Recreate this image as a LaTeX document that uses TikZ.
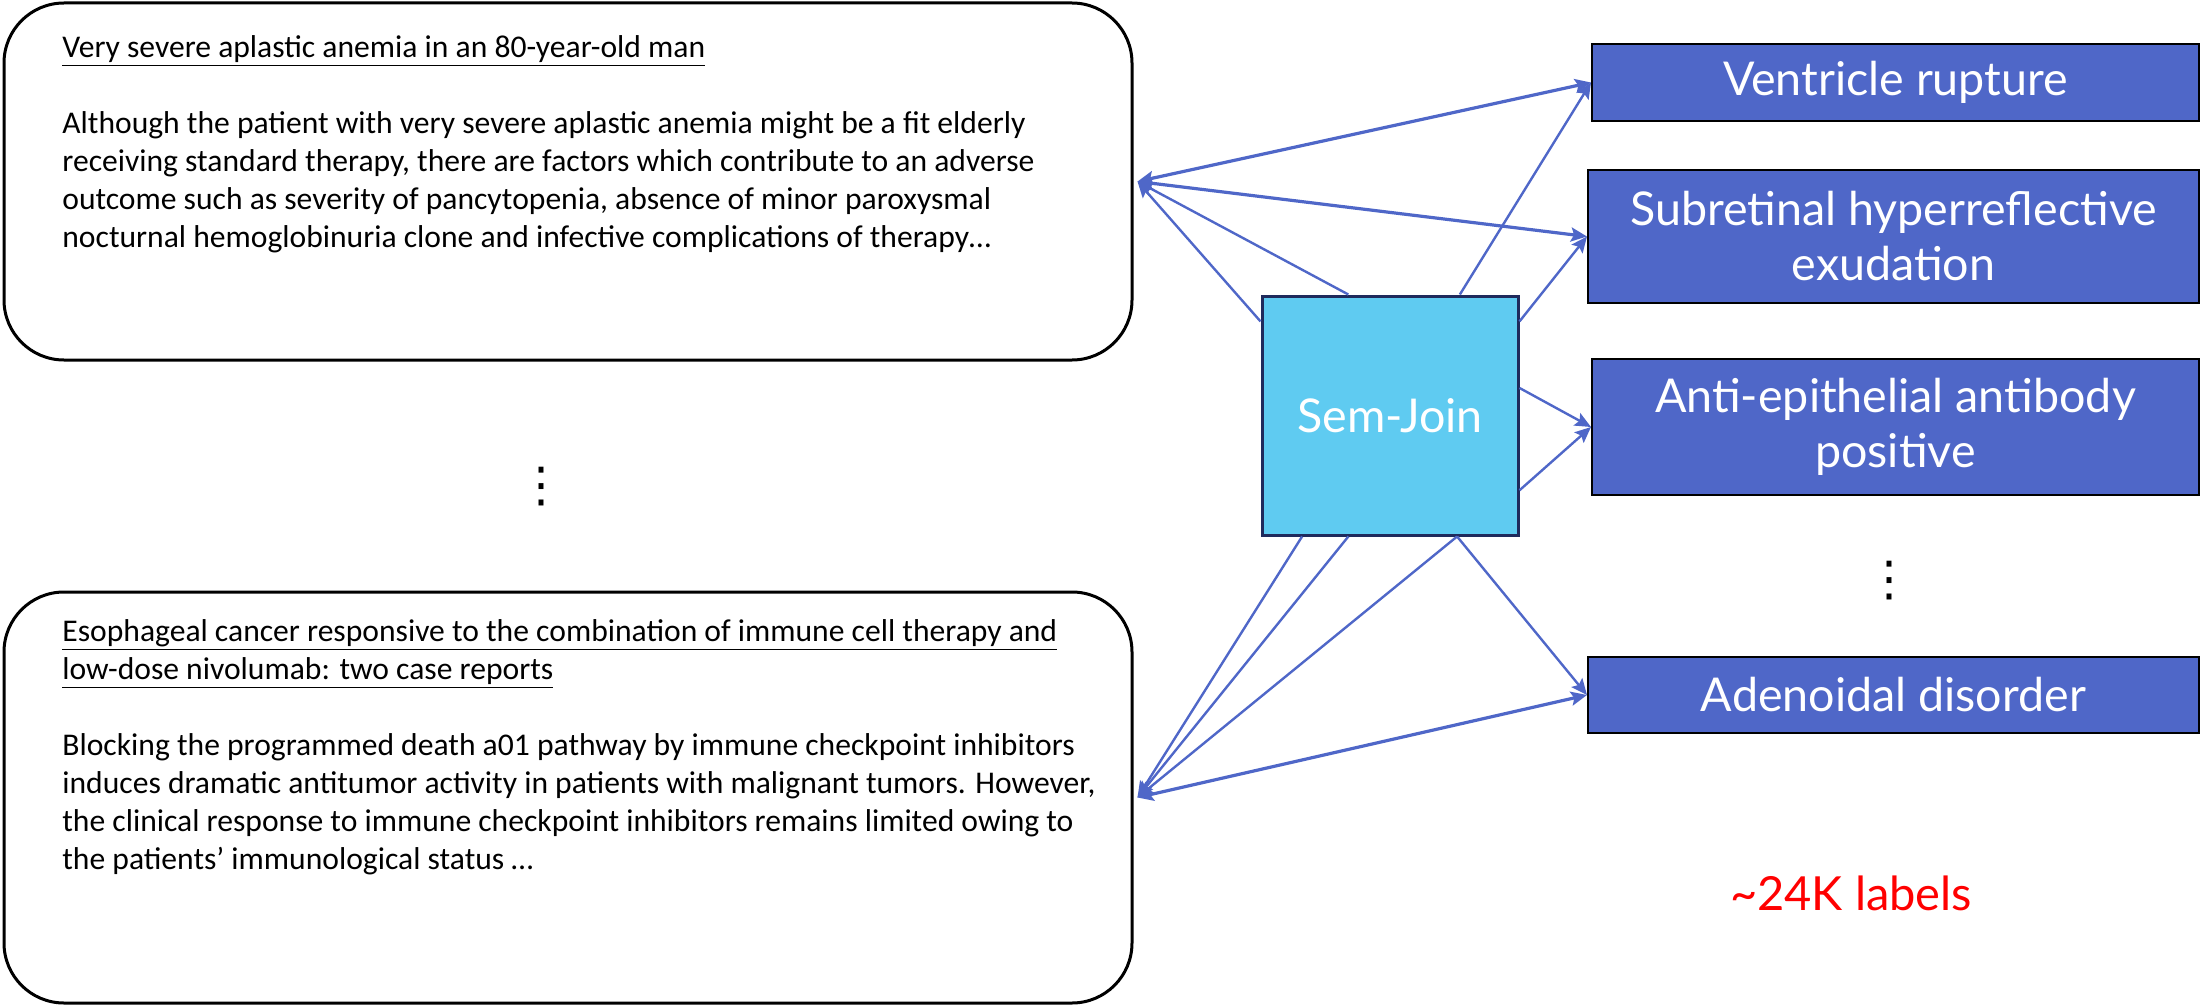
\documentclass[tikz,border=0pt]{standalone}
\usepackage{fontspec}
\setmainfont{Carlito}
\newfontfamily\labelfont{Lato}
\newfontfamily\symfont{DejaVu Sans}
\usetikzlibrary{arrows.meta,positioning,calc}

\definecolor{labelblue}{HTML}{4F67C8}
\definecolor{joinblue}{HTML}{5FCBF1}
\definecolor{joinedge}{HTML}{1F2A5C}
\definecolor{linkblue}{HTML}{4F67C8}

\tikzset{
  docbox/.style={draw=black, line width=1.5pt, rounded corners=30pt, minimum width=564pt},
  doctext/.style={anchor=north west, align=left, inner sep=0pt, font=\fontsize{15.8}{19}\selectfont},
  labelbox/.style={draw=black, line width=1pt, fill=labelblue, text=white, align=center,
    font=\labelfont\fontsize{23.3}{27.5}\selectfont},
  moredots/.style={font=\symfont\fontsize{24}{24}\selectfont},
  link/.style={draw=linkblue, line width=1.2pt, -{Stealth[length=8pt,width=7pt,inset=1.5pt]}},
  biglink/.style={draw=linkblue, line width=1.6pt,
    {Stealth[length=8pt,width=7pt,inset=1.5pt]}-{Stealth[length=8pt,width=7pt,inset=1.5pt]}},
}

\begin{document}
\begin{tikzpicture}[x=0.5pt, y=-0.5pt]
    \useasboundingbox (0,0) rectangle (2202,1006);

    % documents
    \node[docbox, minimum height=178.5pt] (docA) at (568,181.5) {};
    \node[doctext] (docAtext) at (62,35)
    {\underline{Very severe aplastic anemia in an 80-year-old man}\\[19pt]
     Although the patient with very severe aplastic anemia might be a fit elderly\\
     receiving standard therapy, there are factors which contribute to an adverse\\
     outcome such as severity of pancytopenia, absence of minor paroxysmal\\
     nocturnal hemoglobinuria clone and infective complications of therapy\dots};

    \node[docbox, minimum height=205.5pt] (docB) at (568,797.5) {};
    \node[doctext] (docBtext) at (62,619)
    {\underline{Esophageal cancer responsive to the combination of immune cell therapy and}\\
     \underline{low-dose nivolumab: two case reports}\\[19pt]
     Blocking the programmed death a01 pathway by immune checkpoint inhibitors\\
     induces dramatic antitumor activity in patients with malignant tumors. However,\\
     the clinical response to immune checkpoint inhibitors remains limited owing to\\
     the patients' immunological status \dots};

    \node[moredots] (docdots) at (541,487) {⋮};

    % join
    \node[draw=joinedge, line width=1.5pt, fill=joinblue, text=white,
          minimum width=128pt, minimum height=119.5pt,
          font=\labelfont\fontsize{23.3}{27}\selectfont] (sj) at (1390,415.5) {Sem-Join};

    % labels
    \node[labelbox, minimum width=303.5pt, minimum height=38.5pt] (vent) at (1895.5,82.5) {Ventricle rupture};
    \node[labelbox, minimum width=305.5pt, minimum height=66.5pt] (subr) at (1893.5,236.5) {Subretinal hyperreflective\\exudation};
    \node[labelbox, minimum width=303.5pt, minimum height=68pt] (anti) at (1895.5,427) {Anti-epithelial antibody\\positive};
    \node[labelbox, minimum width=305.5pt, minimum height=38pt] (aden) at (1893.5,695) {Adenoidal disorder};

    \node[moredots] (labeldots) at (1889,581) {⋮};
    \node[text=red, font=\labelfont\fontsize{23.5}{27}\selectfont] (count) at (1851,893) {\textasciitilde24K labels};

    % links
    \draw[biglink] ([xshift=2pt]docA.east) -- (vent.west);
    \draw[biglink] ([xshift=2pt]docA.east) -- (subr.west);
    \draw[link] (sj.109) -- ([xshift=2pt]docA.east);
    \draw[link] (sj.144) -- ([xshift=2pt]docA.east);
    \draw[link] (sj.60) -- (vent.west);
    \draw[link] (sj.36) -- (subr.west);
    \draw[link] (sj.12) -- (anti.west);
    \draw[link] (sj.330) -- (anti.west);
    \draw[link] (sj.234) -- ([xshift=2pt]docB.east);
    \draw[link] (sj.251) -- ([xshift=2pt]docB.east);
    \draw[link] (sj.299) -- ([xshift=2pt]docB.east);
    \draw[link] (sj.299) -- (aden.west);
    \draw[biglink] ([xshift=2pt]docB.east) -- (aden.west);
\end{tikzpicture}
\end{document}
